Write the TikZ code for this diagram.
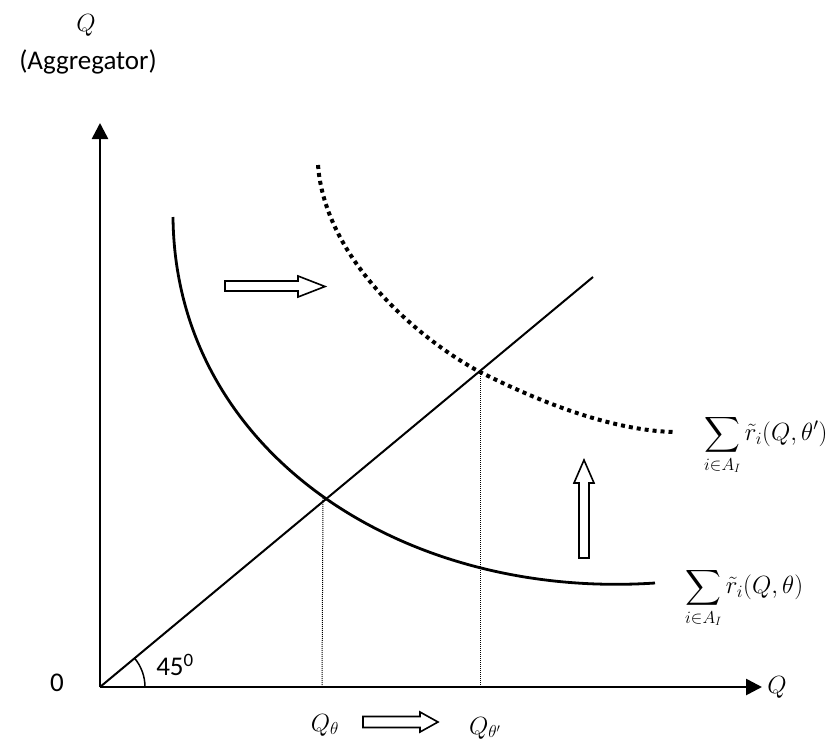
\documentclass[tikz,border=0pt]{standalone}
\usepackage{exscale}
\usepackage{amsmath}
\usepackage{fontspec}
\setmainfont{Carlito}
\usetikzlibrary{arrows.meta}
\begin{document}
\begin{tikzpicture}[x=1pt,y=-1pt,
  axis/.style={line width=2.6pt,-{Triangle[width=16pt,length=16pt]}},
  curve/.style={line width=2.8pt},
  dotcurve/.style={line width=4pt,dash pattern=on 4pt off 4pt},
  guide/.style={line width=1pt,dash pattern=on 1pt off 1pt},
  hollow/.style={draw,line width=1.6pt,fill=white,line join=miter},
  lbl/.style={inner sep=0pt,font=\fontsize{27}{32}\selectfont},
  mlbl/.style={inner sep=0pt,font=\fontsize{25}{30}\selectfont}]
\useasboundingbox (0,0) rectangle (840,747);
\coordinate (O) at (100,687);
\coordinate (ytip) at (100,123);
\coordinate (xtip) at (762,687);
\coordinate (lend) at (593,277);
\coordinate (E1) at (323,498);
\coordinate (E2) at (480,372);
\coordinate (F1) at (322,687);
\coordinate (F2) at (480,687);
% axes
\draw[axis] (O) -- (ytip);
\draw[axis] (O) -- (xtip);
% 45 line
\draw[line width=2pt] (O) -- (lend);
\draw[line width=1.5pt] (145,687) arc[start angle=0,end angle=-40,radius=45];
% curves
\draw[curve] (173,217) .. controls (175,450) and (400,600) .. (655,583);
\draw[dotcurve] (318,165) .. controls (325,260) and (420,340) .. (E2)
  .. controls (540,402) and (610,430) .. (673,432);
% guides
\draw[guide] (E1) -- (F1);
\draw[guide] (E2) -- (F2);
% hollow arrows
\draw[hollow] (225,281) -- (298,281) -- (298,276) -- (325,286.5) -- (298,297) -- (298,291) -- (225,291) -- cycle;
\draw[hollow] (363,716.5) -- (420,716.5) -- (420,712) -- (438,722) -- (420,732) -- (420,727.5) -- (363,727.5) -- cycle;
\draw[hollow] (579,558) -- (579,483) -- (574,483) -- (584,460) -- (594,483) -- (589,483) -- (589,558) -- cycle;
% labels
\node[mlbl] (qtop) at (86,25) {$Q$};
\node[lbl] (agg) at (88,62) {(Aggregator)};
\node[lbl] (zero) at (57,683) {0};
\node[lbl] (ang) at (175,665) {45\textsuperscript{0}};
\node[mlbl] (qx) at (777,687) {$Q$};
\node[mlbl] (qth) at (325,725) {$Q_\theta$};
\node[mlbl] (qthp) at (485,728) {$Q_{\theta'}$};
\node[mlbl,anchor=west] (s2) at (704,445) {$\displaystyle\sum_{i\in A_I}\tilde r_i(Q,\theta')$};
\node[mlbl,anchor=west] (s1) at (685,598) {$\displaystyle\sum_{i\in A_I}\tilde r_i(Q,\theta)$};
\end{tikzpicture}
\end{document}
